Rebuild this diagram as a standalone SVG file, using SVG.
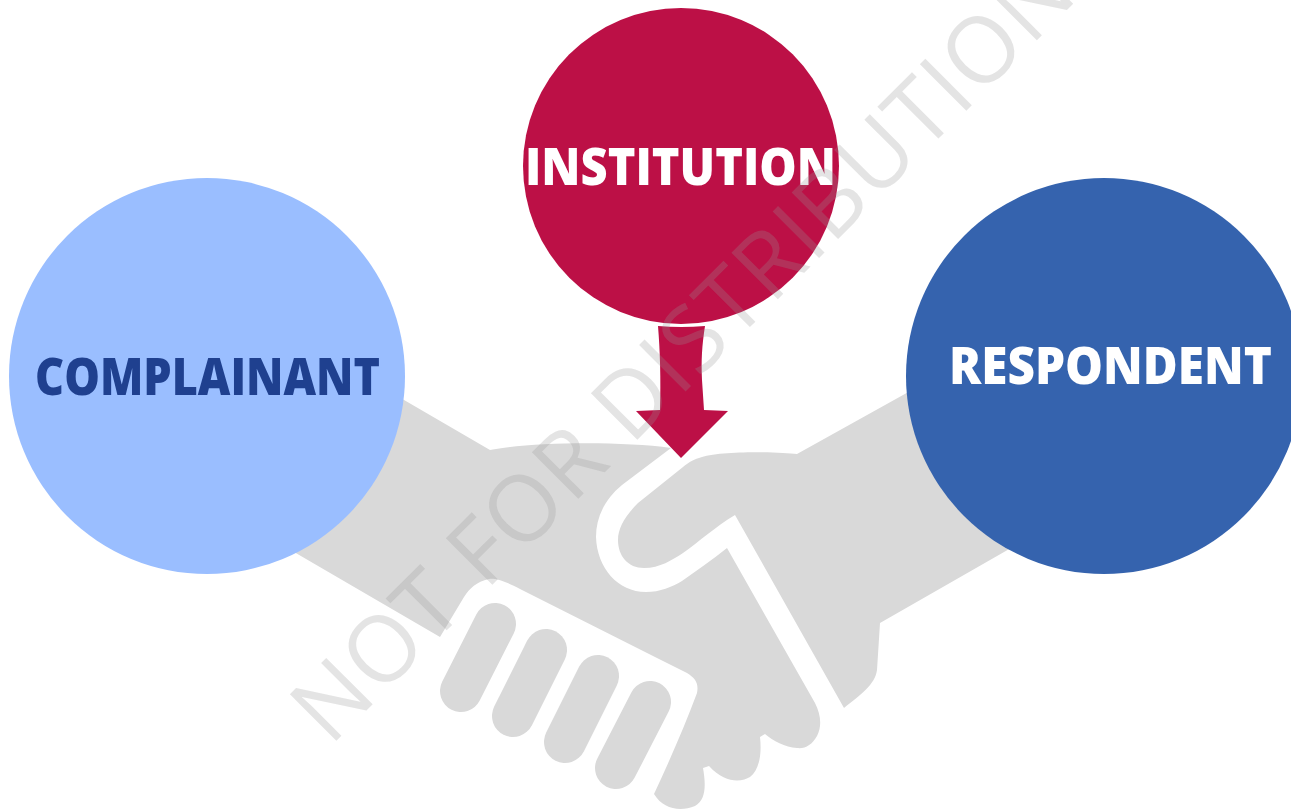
<svg xmlns="http://www.w3.org/2000/svg" width="1291" height="812" viewBox="0 0 1291 812">
<style>
.hand{fill:#d9d9d9}
.finger{stroke:#d9d9d9;stroke-width:42;stroke-linecap:round;fill:none}
.label{font-family:"Open Sans","Lato",sans-serif;font-weight:800;font-size:52px}
.wm{font-family:"Open Sans","Noto Sans",sans-serif;font-weight:400;font-size:92px;fill:#979797;fill-opacity:.26}
</style>
<rect width="1291" height="812" fill="#fff"/>
<g id="handshake">
<path class="hand" d="M380 386L490 450C530 442 620 441 671 448L622 485C604 500 596 518 596 537C597 568 618 592 646 592C660 592 672 587 682 581C697 570 712 560 727 548L815 703C821 715 822 726 817 736C812 745 805 749 797 748C785 747 773 741 765 734L760 737C762 755 759 770 750 777C742 782 725 784 709 766L703 768C706 785 706 800 695 806C680 812 663 809 654 794C670 760 685 725 697 693C699 683 695 678 687 673L655 657L520 589C505 581 495 578 489 579C476 582 470 588 464 597L440 637L270 538Z"/>
<path class="hand" d="M930 380L797 454C780 452 720 450 699 458C692 460 688 463 683 467L638 503C625 516 618 528 618 540C618 556 628 568 644 568C660 568 672 560 683 553C700 541 715 527 735 515L844 708C860 695 875 685 877 670L880 623L1030 537Z"/>
<line class="finger" x1="495" y1="624" x2="461" y2="691"/>
<line class="finger" x1="546" y1="650" x2="513" y2="716"/>
<line class="finger" x1="598" y1="676" x2="565" y2="742"/>
<line class="finger" x1="650" y1="702" x2="616" y2="768"/>
</g>
<g id="complainant">
<circle cx="207" cy="376" r="198" fill="#9abeff"/>
<text class="label" x="35" y="395" fill="#1f408f" textLength="345" lengthAdjust="spacingAndGlyphs">COMPLAINANT</text>
</g>
<g id="respondent">
<circle cx="1104" cy="376" r="198" fill="#3563ae"/>
<text class="label" x="949" y="384" fill="#fff" textLength="323" lengthAdjust="spacingAndGlyphs">RESPONDENT</text>
</g>
<g id="institution">
<circle cx="681" cy="166" r="158" fill="#bc1046"/>
<text class="label" x="525" y="185" fill="#fff" textLength="311" lengthAdjust="spacingAndGlyphs">INSTITUTION</text>
</g>
<g id="connectors">
<path fill="#bc1046" d="M658 326Q681 328 705 326C702 345 701 360 702 380L704 410L728 411L681 458L636 411L660 410C661 380 660 350 658 326Z"/>
</g>
<text class="wm" transform="translate(330 747) rotate(-45)" textLength="1060">NOT FOR DISTRIBUTION</text>
</svg>
